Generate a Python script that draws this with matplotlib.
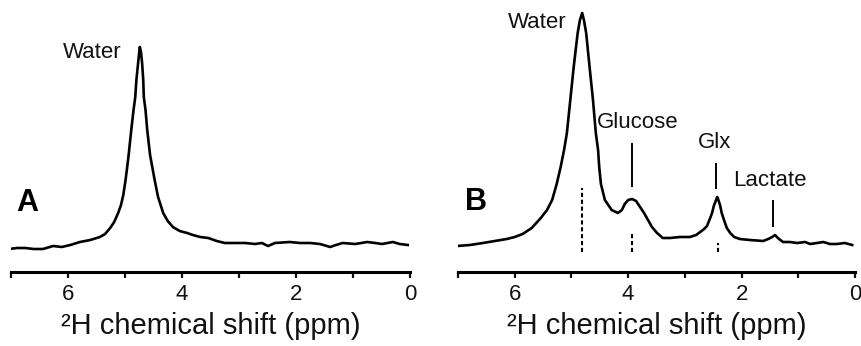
import matplotlib
matplotlib.use("Agg")
import matplotlib.pyplot as plt

plt.rcParams['font.family'] = ['Liberation Sans', 'DejaVu Sans']

# spectrum A: chemical shift (ppm) and intensity (arb. units)
ppm_a = [7.04, 6.89, 6.75, 6.60, 6.44, 6.26, 6.11, 5.96, 5.79, 5.61, 5.44, 5.35,
         5.26, 5.19, 5.12, 5.07, 5.03, 4.99, 4.94, 4.89, 4.85, 4.82, 4.80, 4.77,
         4.75, 4.74, 4.72, 4.70, 4.68, 4.67, 4.64, 4.61, 4.56, 4.48, 4.42, 4.33,
         4.25, 4.16, 4.04, 3.91, 3.81, 3.68, 3.54, 3.39, 3.25, 3.11, 2.89, 2.72,
         2.60, 2.49, 2.37, 2.11, 1.93, 1.75, 1.58, 1.40, 1.30, 1.18, 0.96, 0.75,
         0.61, 0.49, 0.30, 0.18, 0.04]
int_a = [23, 24, 24, 23, 23, 26, 25, 27, 30, 32, 35, 38,
         44, 50, 59, 67, 77, 92, 115, 142, 162, 175, 192, 209,
         220, 225, 220, 209, 192, 175, 162, 142, 117, 92, 75, 59,
         51, 45, 41, 39, 37, 35, 34, 31, 29, 29, 29, 28,
         29, 26, 29, 30, 29, 29, 28, 25, 27, 29, 28, 30,
         29, 28, 30, 28, 27]

# spectrum B
ppm_b = [7.02, 6.79, 6.56, 6.35, 6.14, 6.00, 5.86, 5.70, 5.54, 5.43, 5.34, 5.26,
         5.19, 5.13, 5.08, 5.02, 4.96, 4.89, 4.85, 4.81, 4.78, 4.74, 4.68, 4.62,
         4.57, 4.53, 4.51, 4.48, 4.41, 4.29, 4.18, 4.11, 4.06, 4.00, 3.93, 3.86,
         3.79, 3.72, 3.65, 3.58, 3.49, 3.39, 3.26, 3.09, 2.91, 2.80, 2.73, 2.66,
         2.61, 2.56, 2.52, 2.49, 2.45, 2.43, 2.42, 2.38, 2.35, 2.31, 2.26, 2.20,
         2.13, 2.03, 1.85, 1.62, 1.53, 1.46, 1.41, 1.36, 1.27, 1.15, 1.02, 0.88,
         0.79, 0.67, 0.56, 0.44, 0.32, 0.18, 0.05]
int_b = [26, 27, 29, 31, 33, 35, 38, 44, 54, 62, 72, 88,
         105, 122, 139, 172, 205, 239, 252, 259, 252, 239, 205, 172,
         139, 122, 105, 88, 72, 62, 59, 62, 68, 72, 73, 71,
         65, 59, 52, 45, 39, 34, 34, 35, 35, 37, 40, 43,
         46, 53, 59, 66, 72, 75, 74, 67, 59, 52, 44, 39,
         35, 33, 32, 31, 33, 35, 37, 34, 30, 30, 29, 30,
         28, 29, 30, 28, 28, 29, 27]

# peak labels in B: name, label position (ppm, intensity)
labels_b = ["Water", "Glucose", "Glx", "Lactate"]
label_ppm_b = [5.61, 3.83, 2.47, 1.50]
label_int_b = [249, 149, 129, 92]

# solid marker lines (ppm, bottom, top)
mark_ppm = [3.93, 2.45, 1.45]
mark_lo = [85, 83, 45]
mark_hi = [129, 109, 72]

# dashed lines under the peaks
dash_ppm = [4.81, 3.93, 2.42]
dash_lo = [20, 20, 20]
dash_hi = [84, 39, 29]

ticks = [0, 2, 4, 6]

fig = plt.figure(figsize=(8.62, 3.46), dpi=100)
ax_a = fig.add_axes([11 / 862, 74 / 346, 399 / 862, 272 / 346])
ax_b = fig.add_axes([458 / 862, 74 / 346, 397 / 862, 272 / 346])


def style(ax):
    ax.set_xlim(7.0, 0.0)
    ax.set_ylim(0, 272)
    for s in ['top', 'right', 'left']:
        ax.spines[s].set_visible(False)
    ax.spines['bottom'].set_linewidth(2.2)
    ax.set_yticks([])
    ax.set_xticks(ticks)
    ax.set_xticks([1, 3, 5, 7], minor=True)
    ax.tick_params(axis='x', which='both', direction='out', length=4,
                   width=1.6, labelsize=16, pad=5, colors='#111111')
    ax.set_xlabel("²H chemical shift (ppm)", fontsize=21, labelpad=5,
                  color='#111111')
    ax.patch.set_alpha(0)


ax_a.plot(ppm_a, int_a, color='black', lw=1.9, solid_joinstyle='round')
style(ax_a)
ax_a.text(5.58, 220, "Water", fontsize=16, ha='center', va='center', color='#111111')
ax_a.text(6.72, 69, "A", fontsize=22, fontweight='bold', ha='center', va='center')

ax_b.plot(ppm_b, int_b, color='black', lw=1.9, solid_joinstyle='round')
style(ax_b)
for name, px, py in zip(labels_b, label_ppm_b, label_int_b):
    ax_b.text(px, py, name, fontsize=16, ha='center', va='center', color='#111111')
ax_b.vlines(mark_ppm, mark_lo, mark_hi, colors='black', lw=1.4)
ax_b.vlines(dash_ppm, dash_lo, dash_hi, colors='black', lw=1.5,
            linestyles=(0, (2.0, 1.3)))
ax_b.text(6.68, 70, "B", fontsize=22, fontweight='bold', ha='center', va='center')

fig.savefig("out.png", dpi=100)
